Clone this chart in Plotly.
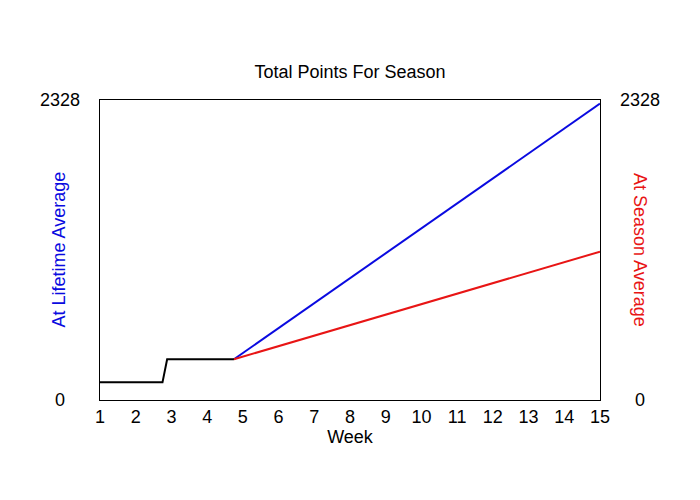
import plotly.graph_objects as go

# actual season points so far
weeks_actual = [1, 2.75, 2.88, 4.75]
points_actual = [137, 137, 316, 316]

# projections from the last actual week to week 15
weeks_proj = [4.75, 15]
lifetime_proj = [316, 2300]
season_proj = [316, 1151]

week_ticks = list(range(1, 16))
y_max = 2328
y_labels = [0, 2328]

font_name = "Liberation Sans, Arial, sans-serif"

fig = go.Figure()
fig.add_trace(go.Scatter(x=weeks_proj, y=lifetime_proj, mode="lines",
                         line=dict(color="#0a0ae0", width=2)))
fig.add_trace(go.Scatter(x=weeks_proj, y=season_proj, mode="lines",
                         line=dict(color="#e81515", width=2)))
fig.add_trace(go.Scatter(x=weeks_actual, y=points_actual, mode="lines",
                         line=dict(color="black", width=2)))

# page body has an 8px margin, so plot area lands at 100..600 / 100..400
fig.update_layout(
    width=700, height=500,
    margin=dict(l=92, r=108, t=92, b=108),
    paper_bgcolor="white", plot_bgcolor="white",
    showlegend=False,
    font=dict(family=font_name, size=18, color="black"),
    title=dict(text="Total Points For Season", x=(350 - 8) / 700, xanchor="center",
               y=1 - 64 / 500, yanchor="middle", font=dict(size=18)),
    xaxis=dict(range=[1, 15], tickvals=week_ticks, showgrid=False, zeroline=False,
               showline=True, linecolor="black", linewidth=1, mirror=True,
               ticks="", ticklabelstandoff=0,
               title=dict(text="Week", standoff=0, font=dict(size=18))),
    yaxis=dict(range=[0, y_max], showgrid=False, zeroline=False,
               showline=True, linecolor="black", linewidth=1, mirror=True,
               showticklabels=False, ticks=""),
)

# y tick labels on both sides
for v in y_labels:
    for xp in (-0.08, 1.08):
        fig.add_annotation(x=xp, y=v, xref="paper", yref="y", text=str(v),
                           showarrow=False, xanchor="center", yanchor="middle",
                           font=dict(size=18))

fig.add_annotation(x=-0.083, y=0.5, xref="paper", yref="paper",
                   text="At Lifetime Average", textangle=-90, showarrow=False,
                   xanchor="center", yanchor="middle",
                   font=dict(size=18, color="#0a0ae0"))
fig.add_annotation(x=1.08, y=0.5, xref="paper", yref="paper",
                   text="At Season Average", textangle=90, showarrow=False,
                   xanchor="center", yanchor="middle",
                   font=dict(size=18, color="#e81515"))

fig.write_html("out.html")
